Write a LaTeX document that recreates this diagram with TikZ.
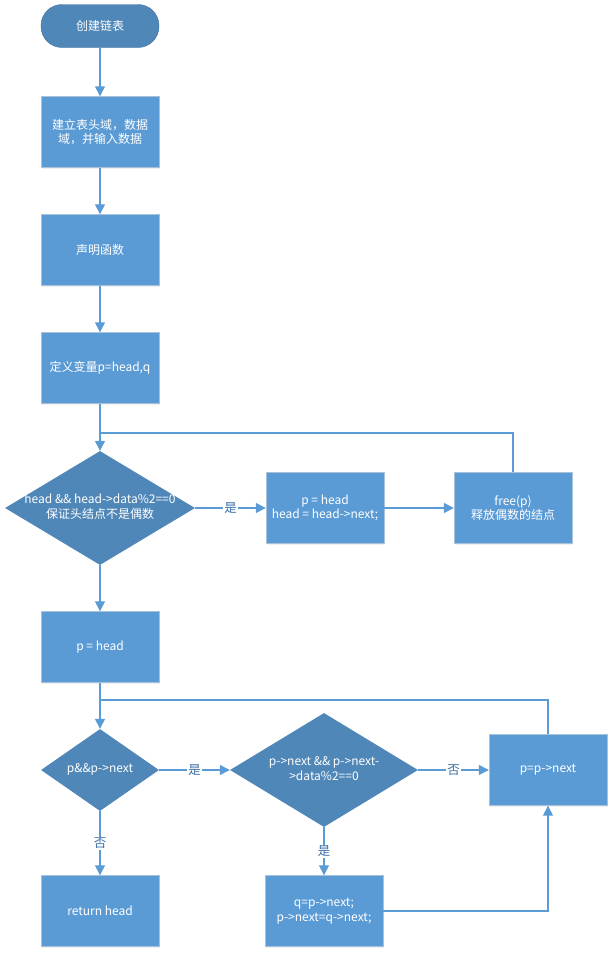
\documentclass[tikz,border=0pt]{standalone}
\usepackage{fontspec}
\setmainfont{Noto Sans CJK SC}
\usepackage{tikz}
\usetikzlibrary{shapes,arrows,arrows.meta,shadows}

\definecolor{boxblue}{HTML}{5B9BD5}
\definecolor{boxedge}{HTML}{A9C2DB}
\definecolor{darkblue}{HTML}{4F87B9}
\definecolor{termedge}{HTML}{41719C}
\definecolor{lineblue}{HTML}{5B9BD5}
\definecolor{labelblue}{HTML}{3A6FA6}

\newcommand{\dtext}[1]{\makebox[0pt]{\begin{tabular}{@{}c@{}}#1\end{tabular}}}

\begin{document}
\begin{tikzpicture}[
	x = 1pt, y = 1pt,
	node distance = 118pt,
	font = \fontsize{12}{14.5}\selectfont,
	termnode/.style={rectangle, rounded corners=21pt, fill=darkblue, draw=termedge, text=white, minimum width=118pt, minimum height=43pt},
	procnode/.style={rectangle, fill=boxblue, draw=boxedge, text=white, align=center, minimum width=118pt, minimum height=71pt, drop shadow={shadow xshift=1pt, shadow yshift=-1.5pt, opacity=0.12}},
	decnode/.style={diamond, fill=darkblue, text=white, inner sep=0pt},
	line/.style={draw=lineblue, line width=1.3pt},
	arrow/.style={line, -{Triangle[length=10pt,width=10pt]}},
	yesno/.style={fill=white, text=labelblue, inner sep=1pt, font=\fontsize{12.5}{14}\selectfont},
	]
	\useasboundingbox (0,0) rectangle (614,-956);
	%Nodes
	\node[termnode]  (start) at (100,-26)                           {创建链表};
	\node[procnode]  (b1)  [below of = start, node distance=106pt]   {建立表头域，数据\\域，并输入数据};
	\node[procnode]  (b2)  [below of = b1]                           {声明函数};
	\node[procnode]  (b3)  [below of = b2]                           {定义变量p=head,q};
	\node[decnode, minimum width=190pt, minimum height=114pt] (d1) [below of = b3, node distance=140pt]
		{\dtext{head \&\& head->data\%2==0\\保证头结点不是偶数}};
	\node[procnode]  (p1)  [right of = d1, node distance=225pt]      {p = head\\head = head->next;};
	\node[procnode]  (free) [right of = p1, node distance=188pt]     {free(p)\\释放偶数的结点};
	\node[procnode]  (b4)  [below of = d1, node distance=139pt]      {p = head};
	\node[decnode, minimum width=118pt, minimum height=82pt] (d2) [below of = b4, node distance=123pt]
		{\dtext{p\&\&p->next}};
	\node[decnode, minimum width=188pt, minimum height=114pt] (d3) [right of = d2, node distance=224pt]
		{\dtext{p->next \&\& p->next-\\>data\%2==0}};
	\node[procnode]  (b5)  [right of = d3, node distance=224pt]      {p=p->next};
	\node[procnode]  (b6)  [below of = d2, node distance=141pt]      {return head};
	\node[procnode]  (b7)  [below of = d3, node distance=141pt]      {q=p->next;\\p->next=q->next;};
	\coordinate (j1) at (100,-433);
	\coordinate (j2) at (100,-700);

	%Lines
	\draw[arrow] (start) -- (b1);
	\draw[arrow] (b1) -- (b2);
	\draw[arrow] (b2) -- (b3);
	\draw[arrow] (b3) -- (d1);
	\draw[arrow] (d1) -- node[yesno]{是} (p1);
	\draw[arrow] (p1) -- (free);
	\draw[line] (free.north) |- (j1);
	\draw[arrow] (d1) -- (b4);
	\draw[arrow] (b4) -- (d2);
	\draw[line] (b5.north) |- (j2);
	\draw[arrow] (d2) -- node[yesno]{是} (d3);
	\draw[arrow] (d3) -- node[yesno]{否} (b5);
	\draw[arrow] (d2) -- node[yesno]{否} (b6);
	\draw[arrow] (d3) -- node[yesno]{是} (b7);
	\draw[arrow] (b7.east) -| (b5.south);
\end{tikzpicture}
\end{document}
